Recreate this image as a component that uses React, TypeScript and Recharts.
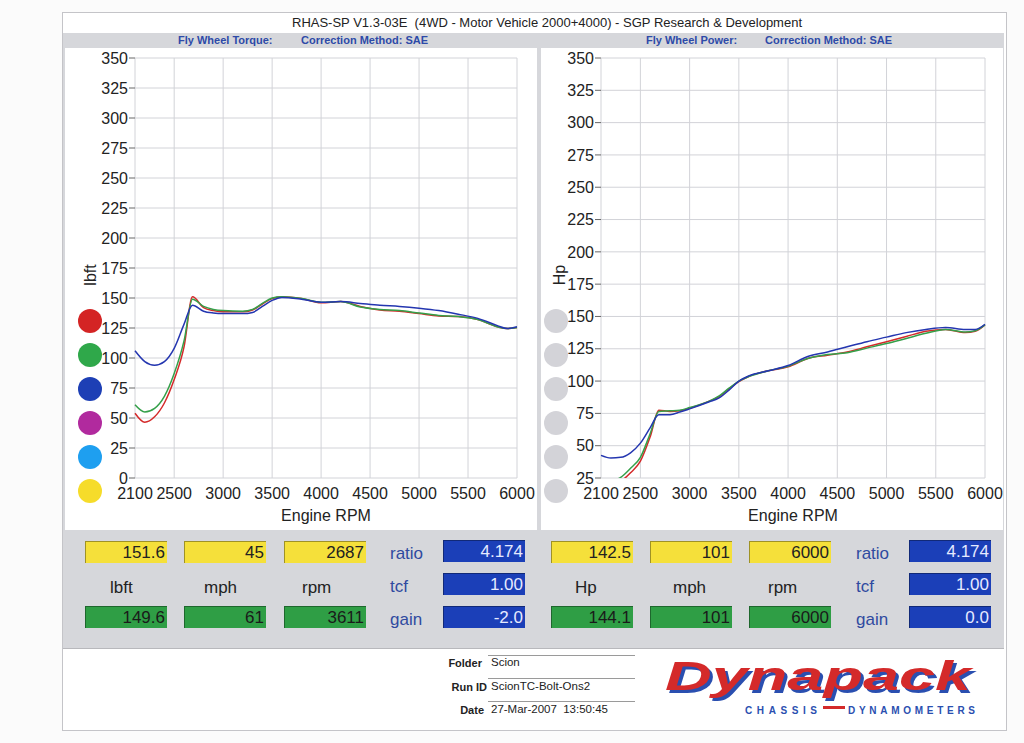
import React from "react";
import { CartesianGrid, Label, Line, LineChart, XAxis, YAxis } from "recharts";

const rpm = [2100, 2200, 2300, 2400, 2500, 2600, 2687, 2800, 2900, 3000, 3200, 3300, 3400, 3500, 3600, 3800, 4000, 4200, 4400, 4600, 4800, 5000, 5200, 5400, 5600, 5800, 5900, 6000];

const torqueRed = [54, 46.5, 51, 62.5, 82, 109, 151, 142, 139.5, 138.5, 138.5, 140, 145, 149.5, 151, 149.5, 146, 147, 143, 140, 139, 137, 135, 134.5, 132, 126, 124.5, 125.5];
const torqueGreen = [61, 55, 58, 68, 87, 114, 149, 143, 140.5, 139.5, 139, 140.5, 145.5, 150, 151, 149.5, 146.5, 147, 142.5, 140.5, 139.5, 137.5, 135.5, 134.5, 132, 126, 124.5, 125.5];
const torqueBlue = [106, 97, 94, 97, 108, 128, 144, 139, 137.5, 137, 137, 138, 143, 148, 150.5, 149, 146.5, 147, 145.5, 144, 143, 141.5, 139.5, 136.5, 133, 127, 124.5, 126];

const powerRed = [21.5, 19.5, 22.5, 29, 38, 57, 77.5, 76.5, 77, 79, 84.5, 88, 94, 99.5, 103.5, 108, 111, 117.5, 120, 122.5, 126.5, 130.5, 134.5, 138.5, 140, 137.5, 138.5, 143.5];
const powerGreen = [24.5, 23, 25.5, 32.5, 41, 59.5, 76.5, 77, 77.5, 79.5, 84.5, 88.5, 94.5, 100, 103.5, 108, 111.5, 117.5, 120.5, 122, 125.5, 129, 133, 137, 140, 138, 139, 143.5];
const powerBlue = [42.5, 40.5, 41, 44.5, 52, 64, 74, 74, 76, 78.5, 84, 87, 93, 100, 104, 108, 112, 119, 122.5, 126.5, 130.5, 134, 137.5, 140, 141.5, 140, 140, 144];

const rpmTicks = [2100, 2500, 3000, 3500, 4000, 4500, 5000, 5500, 6000];
const torqueTicks = [0, 25, 50, 75, 100, 125, 150, 175, 200, 225, 250, 275, 300, 325, 350];
const powerTicks = [25, 50, 75, 100, 125, 150, 175, 200, 225, 250, 275, 300, 325, 350];

const runColors = ["#d42a2a", "#35a04a", "#2436b0"];
const legendColors = ["#d42424", "#2fa84a", "#1d3fb5", "#b12a9e", "#1e9ff0", "#f6dc2a"];

const torqueData = rpm.map((r, i) => ({ rpm: r, red: torqueRed[i], green: torqueGreen[i], blue: torqueBlue[i] }));
const powerData = rpm.map((r, i) => ({ rpm: r, red: powerRed[i], green: powerGreen[i], blue: powerBlue[i] }));

const FONT = "'Liberation Sans', Arial, sans-serif";
const tickStyle = { fontSize: 16, fill: "#222", fontFamily: FONT };

const abs = (left: number, top: number, extra: React.CSSProperties = {}): React.CSSProperties => ({
    position: "absolute",
    left,
    top,
    ...extra,
});

const DynoChart = ({ data, ticks, domain, yWidth, width, rightMargin }: {
    data: typeof torqueData, ticks: number[], domain: [number, number], yWidth: number, width: number, rightMargin: number
}) => (
    <LineChart width={width} height={482} data={data} margin={{ top: 10, right: rightMargin, bottom: 0, left: 0 }}>
        <CartesianGrid stroke="#d2d3d8" />
        <XAxis dataKey="rpm" type="number" domain={[2100, 6000]} ticks={rpmTicks} interval={0}
            axisLine={false} tickLine={false} tickSize={0} tickMargin={10} height={52} tick={tickStyle}>
            <Label value="Engine RPM" position="insideBottom" offset={9} style={{ fontSize: 16, fill: "#222", fontFamily: FONT }} />
        </XAxis>
        <YAxis type="number" domain={domain} ticks={ticks} interval={0} allowDataOverflow width={yWidth}
            axisLine={false} tickSize={6} tickMargin={1} tickLine={{ stroke: "#666" }} tick={tickStyle} />
        <Line type="monotone" dataKey="red" stroke={runColors[0]} strokeWidth={1.5} dot={false} isAnimationActive={false} />
        <Line type="monotone" dataKey="green" stroke={runColors[1]} strokeWidth={1.5} dot={false} isAnimationActive={false} />
        <Line type="monotone" dataKey="blue" stroke={runColors[2]} strokeWidth={1.5} dot={false} isAnimationActive={false} />
    </LineChart>
);

const ValueBox = ({ left, top, bg, color, text }: { left: number, top: number, bg: string, color: string, text: string }) => (
    <div style={abs(left, top, {
        width: 82, height: 22, background: bg, color, fontSize: 17, textAlign: "right",
        lineHeight: "22px", paddingRight: 2, boxSizing: "border-box",
        borderTop: "1px solid rgba(0,0,0,0.35)", borderLeft: "1px solid rgba(0,0,0,0.35)",
    })}>{text}</div>
);

const DataBlock = ({ x, unit, top1, top2, labelX, unitX }: {
    x: number[], unit: string[], top1: string[], top2: string[], labelX: number, unitX: number[]
}) => (
    <>
        {x.map((bx, i) => <ValueBox key={"y" + i} left={bx} top={541} bg="#f5e03a" color="#222" text={top1[i]} />)}
        {x.map((bx, i) => <ValueBox key={"g" + i} left={bx} top={606} bg="#2f9e45" color="#1a1a1a" text={top2[i]} />)}
        {unit.map((u, i) => <div key={"u" + i} style={abs(unitX[i], 578, { fontSize: 17, color: "#222" })}>{u}</div>)}
        <div style={abs(labelX, 544, { fontSize: 17, color: "#2f4aa0" })}>ratio</div>
        <div style={abs(labelX, 577, { fontSize: 17, color: "#2f4aa0" })}>tcf</div>
        <div style={abs(labelX, 610, { fontSize: 17, color: "#2f4aa0" })}>gain</div>
    </>
);

const App = () => {
    return (
        <div style={abs(0, 0, { width: 1024, height: 743, background: "#fbfbfb", overflow: "hidden", fontFamily: FONT })}>
            {/* frame */}
            <div style={abs(62, 12, { width: 943, height: 717, border: "1px solid #c4c4c8", background: "#fff" })} />
            <div style={abs(292, 15, { fontSize: 13, color: "#222", whiteSpace: "pre" })}>
                RHAS-SP V1.3-03E  (4WD - Motor Vehicle 2000+4000) - SGP Research &amp; Development
            </div>
            <div style={abs(63, 33, { width: 941, height: 615, background: "#d6d7db" })} />
            <div style={abs(178, 34, { fontSize: 11, fontWeight: "bold", color: "#2d4aa8" })}>Fly Wheel Torque:</div>
            <div style={abs(301, 34, { fontSize: 11, fontWeight: "bold", color: "#2d4aa8" })}>Correction Method: SAE</div>
            <div style={abs(646, 34, { fontSize: 11, fontWeight: "bold", color: "#2d4aa8" })}>Fly Wheel Power:</div>
            <div style={abs(765, 34, { fontSize: 11, fontWeight: "bold", color: "#2d4aa8" })}>Correction Method: SAE</div>

            {/* chart panels */}
            <div style={abs(65, 48, { width: 472, height: 482, background: "#fff" })}>
                <DynoChart data={torqueData} ticks={torqueTicks} domain={[0, 350]} yWidth={70} width={472} rightMargin={20} />
            </div>
            <div style={abs(541, 48, { width: 462, height: 482, background: "#fff" })}>
                <DynoChart data={powerData} ticks={powerTicks} domain={[25, 350]} yWidth={60} width={462} rightMargin={18} />
            </div>

            <div style={abs(80, 266, { fontSize: 16, color: "#222", transform: "rotate(-90deg)" })}>lbft</div>
            <div style={abs(550, 266, { fontSize: 16, color: "#222", transform: "rotate(-90deg)" })}>Hp</div>

            {legendColors.map((c, i) => (
                <div key={"l" + i} style={abs(78, 309 + i * 34, { width: 24, height: 24, borderRadius: 12, background: c })} />
            ))}
            {legendColors.map((c, i) => (
                <div key={"r" + i} style={abs(544, 309 + i * 34, { width: 24, height: 24, borderRadius: 12, background: "#d3d3d8" })} />
            ))}

            {/* data panel */}
            <DataBlock x={[85, 184, 284]} unit={["lbft", "mph", "rpm"]} top1={["151.6", "45", "2687"]} top2={["149.6", "61", "3611"]}
                labelX={390} unitX={[110, 204, 302]} />
            <ValueBox left={443} top={540} bg="#1b3fb8" color="#e6eaff" text="4.174" />
            <ValueBox left={443} top={573} bg="#1b3fb8" color="#e6eaff" text="1.00" />
            <ValueBox left={443} top={606} bg="#1b3fb8" color="#e6eaff" text="-2.0" />

            <DataBlock x={[551, 650, 749]} unit={["Hp", "mph", "rpm"]} top1={["142.5", "101", "6000"]} top2={["144.1", "101", "6000"]}
                labelX={856} unitX={[575, 673, 768]} />
            <ValueBox left={909} top={540} bg="#1b3fb8" color="#e6eaff" text="4.174" />
            <ValueBox left={909} top={573} bg="#1b3fb8" color="#e6eaff" text="1.00" />
            <ValueBox left={909} top={606} bg="#1b3fb8" color="#e6eaff" text="0.0" />

            {/* footer */}
            <div style={abs(63, 648, { width: 941, height: 80, background: "#fff", borderTop: "1px solid #b8b8bc" })} />
            {[655, 678, 701].map((y) => (
                <div key={y} style={abs(488, y, { width: 147, height: 1, background: "#9a9a9a" })} />
            ))}
            <div style={abs(400, 657, { width: 82, textAlign: "right", fontSize: 11, fontWeight: "bold", color: "#222" })}>Folder</div>
            <div style={abs(400, 681, { width: 87, textAlign: "right", fontSize: 11, fontWeight: "bold", color: "#222" })}>Run ID</div>
            <div style={abs(400, 704, { width: 84, textAlign: "right", fontSize: 11, fontWeight: "bold", color: "#222" })}>Date</div>
            <div style={abs(491, 656, { fontSize: 11.5, color: "#222" })}>Scion</div>
            <div style={abs(491, 680, { fontSize: 11.5, color: "#222" })}>ScionTC-Bolt-Ons2</div>
            <div style={abs(491, 703, { fontSize: 11.5, color: "#222", whiteSpace: "pre" })}>27-Mar-2007  13:50:45</div>

            <svg style={abs(655, 652)} width={340} height={72}>
                <text x={10} y={38} fontSize={40} fontWeight={900} fontStyle="italic" fontFamily={FONT} fill="#d42a2a"
                    style={{ filter: "drop-shadow(3px 3px 0 #2a4fb0)" }}
                    textLength={306} lengthAdjust="spacingAndGlyphs">Dynapack</text>
                <text x={90} y={62} fontSize={10} fontWeight="bold" fontFamily={FONT} fill="#2a4fb0"
                    textLength={72} lengthAdjust="spacing">CHASSIS</text>
                <rect x={168} y={54} width={22} height={3} fill="#d42a2a" />
                <text x={193} y={62} fontSize={10} fontWeight="bold" fontFamily={FONT} fill="#2a4fb0"
                    textLength={127} lengthAdjust="spacing">DYNAMOMETERS</text>
            </svg>
        </div>
    );
};

export default App;
